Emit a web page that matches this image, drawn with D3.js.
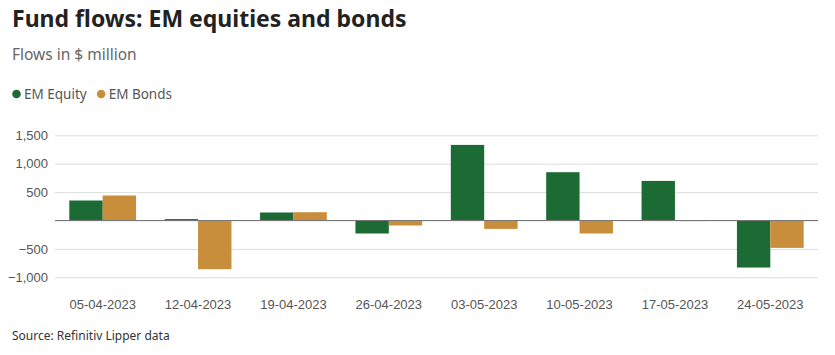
<!DOCTYPE html>
<html><head><meta charset="utf-8">
<script src="https://cdn.jsdelivr.net/npm/d3@7"></script>
<style>body{margin:0;background:#fff;}svg{display:block;font-family:"Source Sans Pro","Noto Sans",Lato,sans-serif;}</style>
</head><body><svg id="c" width="835" height="355"></svg>
<script>
const categories = ["05-04-2023","12-04-2023","19-04-2023","26-04-2023","03-05-2023","10-05-2023","17-05-2023","24-05-2023"];
const emEquity = [352, 25, 141, -229, 1331, 850, 697, -828];
const emBonds = [440, -857, 146, -88, -148, -229, -10, -482];
const seriesNames = ["EM Equity","EM Bonds"];
const seriesColors = ["#1c6b35","#c98e3b"];
const yTicks = [-1000, -500, 0, 500, 1000, 1500];
const yTickLabels = ["−1,000","−500","","500","1,000","1,500"];

const svg = d3.select("#c");
const left = 55, right = 818;
const x = d3.scaleBand().domain(categories).range([left, right]).paddingInner(0.3).paddingOuter(0.15);
const x1 = d3.scaleBand().domain(seriesNames).range([0, x.bandwidth()]);
const y = d3.scaleLinear().domain([0, 1500]).range([220.5, 135.3]);

svg.append("text").attr("x",12).attr("y",27).attr("font-size",23).attr("font-weight",700).attr("fill","#222").text("Fund flows: EM equities and bonds");
svg.append("text").attr("x",12).attr("y",60).attr("font-size",15.5).attr("fill","#666").text("Flows in $ million");

const leg = svg.append("g");
let lx = 12;
seriesNames.forEach((n,i)=>{
  const g = leg.append("g").attr("transform",`translate(${lx},94)`);
  g.append("circle").attr("cx",4.5).attr("cy",0).attr("r",4.3).attr("fill",seriesColors[i]);
  const t = g.append("text").attr("x",12).attr("y",5).attr("font-size",13.5).attr("fill","#555").text(n);
  lx += 12 + t.node().getComputedTextLength() + 10;
});

// gridlines
const yAxis = d3.axisLeft(y).tickValues(yTicks).tickSize(-(right-left)).tickFormat((d,i)=>yTickLabels[i]);
const ga = svg.append("g").attr("transform",`translate(${left},0)`).call(yAxis);
ga.select(".domain").remove();
ga.selectAll(".tick line").attr("stroke","#ddd").attr("stroke-width",1);
ga.selectAll(".tick text").attr("x",-7).attr("font-size",13).attr("fill","#555").attr("font-family",null);

const groups = svg.append("g").selectAll("g").data(categories).join("g").attr("transform",d=>`translate(${x(d)},0)`);
const data = [emEquity, emBonds];
groups.selectAll("rect").data((d,i)=>seriesNames.map((n,s)=>({n, v:data[s][i], s}))).join("rect")
  .attr("x",d=>x1(d.n)).attr("width",x1.bandwidth())
  .attr("y",d=>y(Math.max(0,d.v))).attr("height",d=>Math.abs(y(d.v)-y(0)))
  .attr("fill",d=>seriesColors[d.s]);

svg.append("line").attr("x1",left).attr("x2",right).attr("y1",y(0)).attr("y2",y(0)).attr("stroke","#777").attr("stroke-width",1.2);

const xAxis = d3.axisBottom(x).tickSize(0).tickPadding(0);
const gx = svg.append("g").attr("transform","translate(0,300)").call(xAxis);
gx.select(".domain").remove();
gx.selectAll(".tick text").attr("font-size",13).attr("fill","#555").attr("font-family",null).attr("dy","0.71em");

svg.append("text").attr("x",12).attr("y",340).attr("font-size",12).attr("fill","#333").text("Source: Refinitiv Lipper data");
</script></body></html>
